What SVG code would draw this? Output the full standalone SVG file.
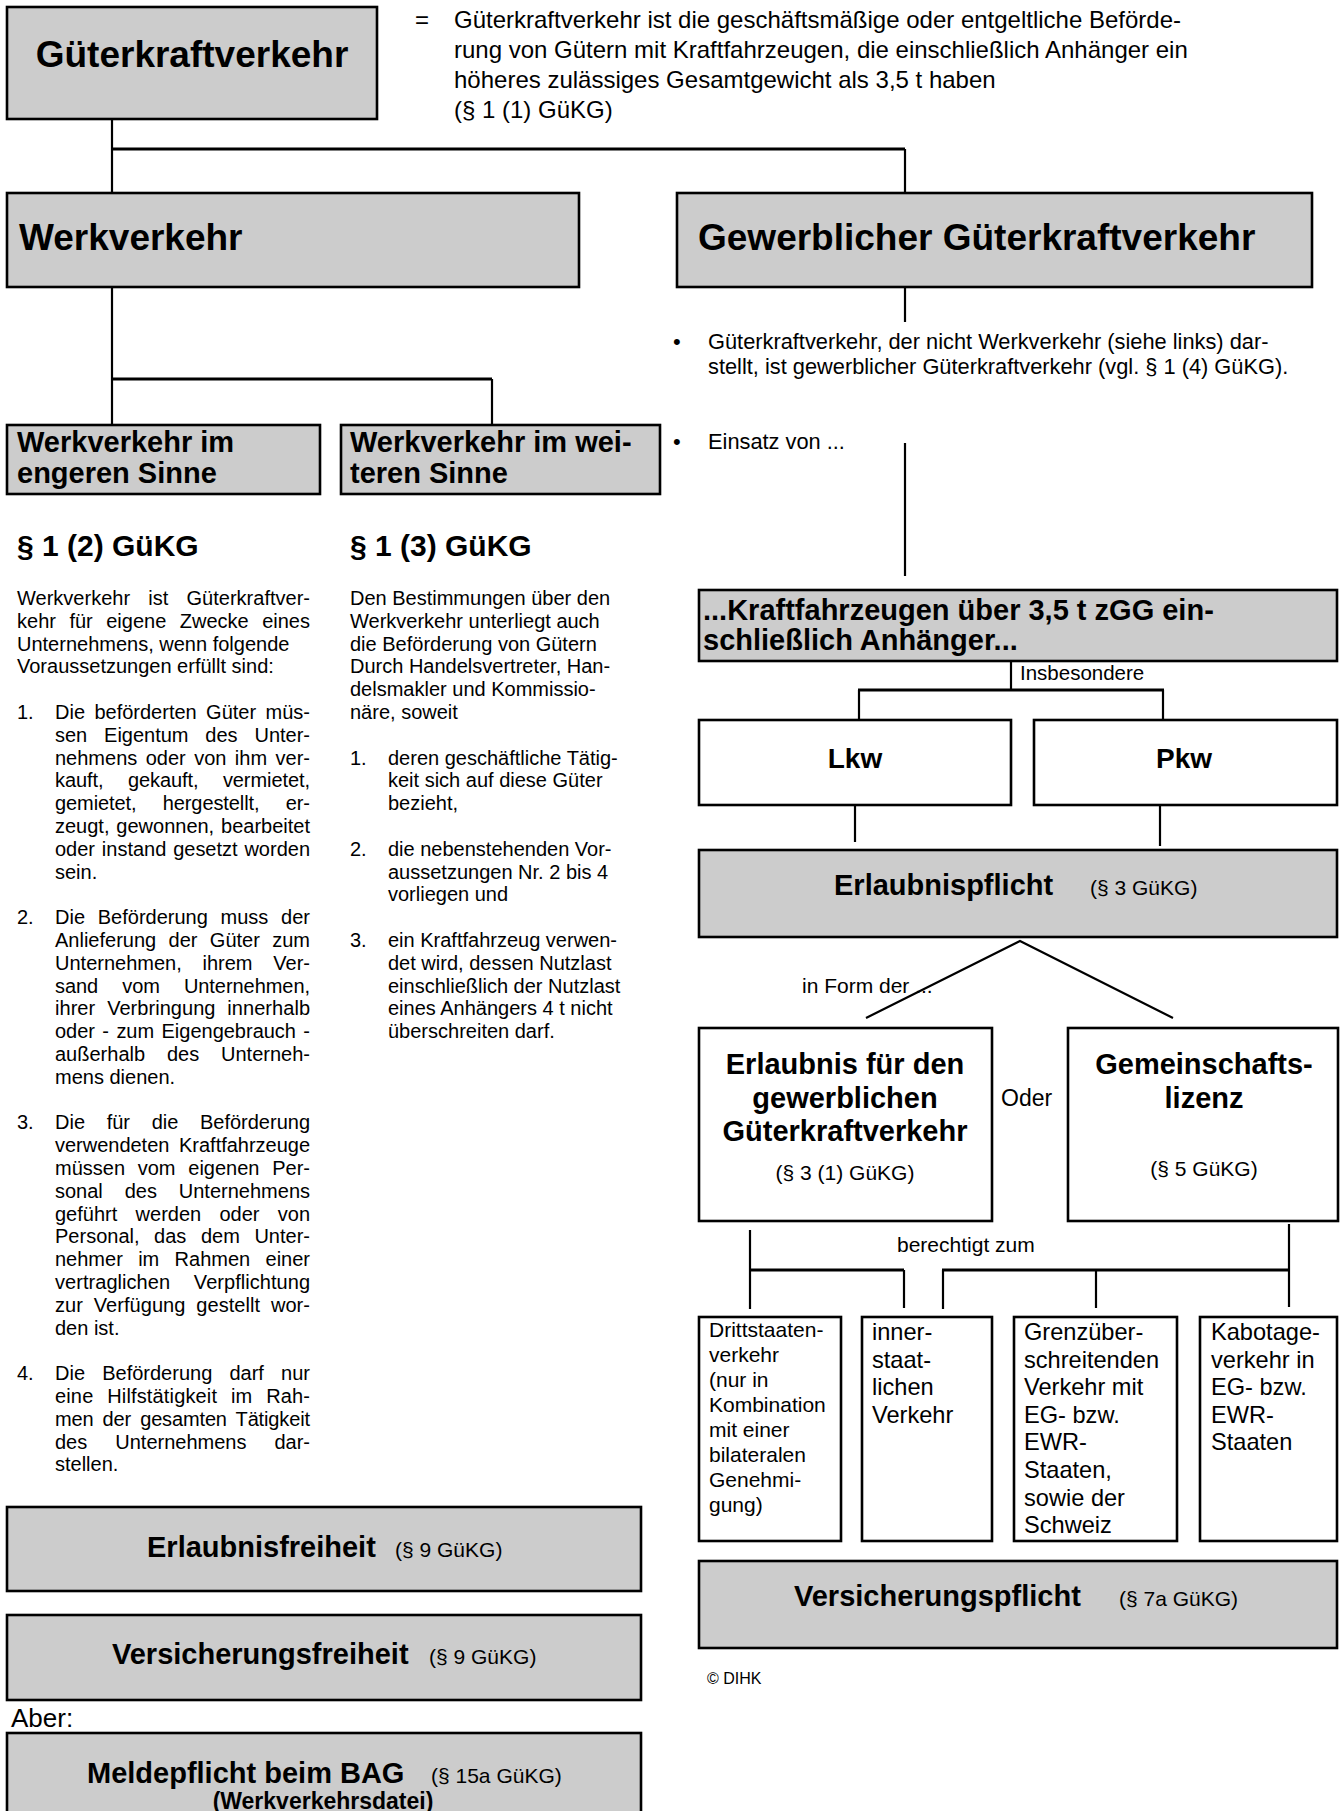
<svg xmlns="http://www.w3.org/2000/svg" width="1341" height="1811" viewBox="0 0 1341 1811">
<defs>
<style>
text{font-family:"Liberation Sans",Arial,sans-serif;fill:#000}
.g{fill:#cccccc;stroke:#000;stroke-width:2.6}
.w{fill:#fff;stroke:#000;stroke-width:2.6}
.b37{font-size:37px;font-weight:bold}
.b29{font-size:29px;font-weight:bold}
.r21{font-size:21px}
.p{font-size:20px}
.d{font-size:24px}
.s21{font-size:21px}
.s24{font-size:23.6px}
.c{text-anchor:middle}
.ln{stroke:#000;stroke-width:2.2;fill:none}
.lh{stroke:#000;stroke-width:3;fill:none}
</style>
</defs>
<rect width="1341" height="1811" fill="#fff"/>

<g id="connectors">
<path class="ln" d="M112,119V193"/>
<path class="lh" d="M111,149H905"/>
<path class="ln" d="M905,149V193"/>
<path class="ln" d="M905,287V322"/>
<path class="ln" d="M112,287V425"/>
<path class="lh" d="M111,379H492"/>
<path class="ln" d="M492,379V425"/>
<path class="ln" d="M905,443V576"/>
<path class="ln" d="M1011,661V690"/>
<path class="lh" d="M858,690H1164"/>
<path class="ln" d="M859,690V720"/>
<path class="ln" d="M1163,690V720"/>
<path class="ln" d="M855,805V842"/>
<path class="ln" d="M1160,805V846"/>
<path class="ln" d="M866,1018L1020,941L1173,1018"/>
<path class="ln" d="M750,1230V1309"/>
<path class="lh" d="M749,1270H904"/>
<path class="ln" d="M904,1270V1308"/>
<path class="ln" d="M943,1270V1309"/>
<path class="lh" d="M942,1270H1290"/>
<path class="ln" d="M1096,1270V1308"/>
<path class="ln" d="M1289,1224V1307"/>
</g>

<g id="gueterkraftverkehr">
<rect class="g" x="7" y="7" width="370" height="112"/>
<text class="b37 c" x="192" y="67">Güterkraftverkehr</text>
</g>

<g id="definition">
<text class="d" x="415" y="28">=</text>
<text class="d" x="454" y="28">Güterkraftverkehr ist die geschäftsmäßige oder entgeltliche Beförde-</text>
<text class="d" x="454" y="58">rung von Gütern mit Kraftfahrzeugen, die einschließlich Anhänger ein</text>
<text class="d" x="454" y="88">höheres zulässiges Gesamtgewicht als 3,5 t haben</text>
<text class="d" x="454" y="118">(§ 1 (1) GüKG)</text>
</g>

<g id="werkverkehr">
<rect class="g" x="7" y="193" width="572" height="94"/>
<text class="b37" x="19" y="250">Werkverkehr</text>
</g>

<g id="gewerblich">
<rect class="g" x="677" y="193" width="635" height="94"/>
<text class="b37" x="698" y="250">Gewerblicher Güterkraftverkehr</text>
</g>

<g id="wv-engeren">
<rect class="g" x="7" y="425" width="313" height="69"/>
<text class="b29" x="17" y="452">Werkverkehr im</text>
<text class="b29" x="17" y="483">engeren Sinne</text>
</g>

<g id="wv-weiteren">
<rect class="g" x="341" y="425" width="319" height="69"/>
<text class="b29" x="350" y="452">Werkverkehr im wei-</text>
<text class="b29" x="350" y="483">teren Sinne</text>
</g>

<g id="text-engeren">
<text class="b29" x="17" y="556" style="font-size:30px">§ 1 (2) GüKG</text>
<text class="p" x="17" y="605" word-spacing="12.6" textLength="293" lengthAdjust="spacing">Werkverkehr ist Güterkraftver-</text>
<text class="p" x="17" y="627.8" word-spacing="7.9" textLength="293" lengthAdjust="spacing">kehr für eigene Zwecke eines</text>
<text class="p" x="17" y="650.6">Unternehmens, wenn folgende</text>
<text class="p" x="17" y="673.4">Voraussetzungen erfüllt sind:</text>

<text class="p" x="17" y="719">1.</text>
<text class="p" x="55" y="719" word-spacing="3.9" textLength="255" lengthAdjust="spacing">Die beförderten Güter müs-</text>
<text class="p" x="55" y="741.8" word-spacing="11.3" textLength="255" lengthAdjust="spacing">sen Eigentum des Unter-</text>
<text class="p" x="55" y="764.6" word-spacing="2.9" textLength="255" lengthAdjust="spacing">nehmens oder von ihm ver-</text>
<text class="p" x="55" y="787.4" word-spacing="19" textLength="255" lengthAdjust="spacing">kauft, gekauft, vermietet,</text>
<text class="p" x="55" y="810.2" word-spacing="20.8" textLength="255" lengthAdjust="spacing">gemietet, hergestellt, er-</text>
<text class="p" x="55" y="833" word-spacing="1.3" textLength="255" lengthAdjust="spacing">zeugt, gewonnen, bearbeitet</text>
<text class="p" x="55" y="855.8" word-spacing="1.3" textLength="255" lengthAdjust="spacing">oder instand gesetzt worden</text>
<text class="p" x="55" y="878.6">sein.</text>

<text class="p" x="17" y="924.2">2.</text>
<text class="p" x="55" y="924.2" word-spacing="7.2" textLength="255" lengthAdjust="spacing">Die Beförderung muss der</text>
<text class="p" x="55" y="947" word-spacing="6.8" textLength="255" lengthAdjust="spacing">Anlieferung der Güter zum</text>
<text class="p" x="55" y="969.8" word-spacing="15.2" textLength="255" lengthAdjust="spacing">Unternehmen, ihrem Ver-</text>
<text class="p" x="55" y="992.6" word-spacing="18.6" textLength="255" lengthAdjust="spacing">sand vom Unternehmen,</text>
<text class="p" x="55" y="1015.4" word-spacing="6.3" textLength="255" lengthAdjust="spacing">ihrer Verbringung innerhalb</text>
<text class="p" x="55" y="1038.2" word-spacing="1.8" textLength="255" lengthAdjust="spacing">oder - zum Eigengebrauch -</text>
<text class="p" x="55" y="1061" word-spacing="16.3" textLength="255" lengthAdjust="spacing">außerhalb des Unterneh-</text>
<text class="p" x="55" y="1083.8">mens dienen.</text>

<text class="p" x="17" y="1129.4">3.</text>
<text class="p" x="55" y="1129.4" word-spacing="16.1" textLength="255" lengthAdjust="spacing">Die für die Beförderung</text>
<text class="p" x="55" y="1152.2" word-spacing="4.1" textLength="255" lengthAdjust="spacing">verwendeten Kraftfahrzeuge</text>
<text class="p" x="55" y="1175" word-spacing="7.2" textLength="255" lengthAdjust="spacing">müssen vom eigenen Per-</text>
<text class="p" x="55" y="1197.8" word-spacing="16.3" textLength="255" lengthAdjust="spacing">sonal des Unternehmens</text>
<text class="p" x="55" y="1220.6" word-spacing="12.7" textLength="255" lengthAdjust="spacing">geführt werden oder von</text>
<text class="p" x="55" y="1243.4" word-spacing="9" textLength="255" lengthAdjust="spacing">Personal, das dem Unter-</text>
<text class="p" x="55" y="1266.2" word-spacing="9.8" textLength="255" lengthAdjust="spacing">nehmer im Rahmen einer</text>
<text class="p" x="55" y="1289" word-spacing="18.2" textLength="255" lengthAdjust="spacing">vertraglichen Verpflichtung</text>
<text class="p" x="55" y="1311.8" word-spacing="5.3" textLength="255" lengthAdjust="spacing">zur Verfügung gestellt wor-</text>
<text class="p" x="55" y="1334.6">den ist.</text>

<text class="p" x="17" y="1380.2">4.</text>
<text class="p" x="55" y="1380.2" word-spacing="11.6" textLength="255" lengthAdjust="spacing">Die Beförderung darf nur</text>
<text class="p" x="55" y="1403" word-spacing="8.1" textLength="255" lengthAdjust="spacing">eine Hilfstätigkeit im Rah-</text>
<text class="p" x="55" y="1425.8" word-spacing="3.7" textLength="255" lengthAdjust="spacing">men der gesamten Tätigkeit</text>
<text class="p" x="55" y="1448.6" word-spacing="22.5" textLength="255" lengthAdjust="spacing">des Unternehmens dar-</text>
<text class="p" x="55" y="1471.4">stellen.</text>
</g>

<g id="text-weiteren">
<text class="b29" x="350" y="556" style="font-size:30px">§ 1 (3) GüKG</text>
<text class="p" x="350" y="605">Den Bestimmungen über den</text>
<text class="p" x="350" y="627.8">Werkverkehr unterliegt auch</text>
<text class="p" x="350" y="650.6">die Beförderung von Gütern</text>
<text class="p" x="350" y="673.4">Durch Handelsvertreter, Han-</text>
<text class="p" x="350" y="696.2">delsmakler und Kommissio-</text>
<text class="p" x="350" y="719">näre, soweit</text>
<text class="p" x="350" y="764.6">1.</text>
<text class="p" x="388" y="764.6">deren geschäftliche Tätig-</text>
<text class="p" x="388" y="787.4">keit sich auf diese Güter</text>
<text class="p" x="388" y="810.2">bezieht,</text>
<text class="p" x="350" y="855.8">2.</text>
<text class="p" x="388" y="855.8">die nebenstehenden Vor-</text>
<text class="p" x="388" y="878.6">aussetzungen Nr. 2 bis 4</text>
<text class="p" x="388" y="901.4">vorliegen und</text>
<text class="p" x="350" y="947">3.</text>
<text class="p" x="388" y="947">ein Kraftfahrzeug verwen-</text>
<text class="p" x="388" y="969.8">det wird, dessen Nutzlast</text>
<text class="p" x="388" y="992.6">einschließlich der Nutzlast</text>
<text class="p" x="388" y="1015.4">eines Anhängers 4 t nicht</text>
<text class="p" x="388" y="1038.2">überschreiten darf.</text>
</g>

<g id="text-gewerblich">
<text style="font-size:22px" x="673" y="349">•</text>
<text style="font-size:21.8px" x="708" y="349">Güterkraftverkehr, der nicht Werkverkehr (siehe links) dar-</text>
<text style="font-size:21.8px" x="708" y="374">stellt, ist gewerblicher Güterkraftverkehr (vgl. § 1 (4) GüKG).</text>
<text style="font-size:22px" x="673" y="449">•</text>
<text style="font-size:21.8px" x="708" y="449">Einsatz von ...</text>
</g>

<g id="kraftfahrzeuge">
<rect class="g" x="699" y="590" width="638" height="71"/>
<text class="b29" x="703" y="620">...Kraftfahrzeugen über 3,5 t zGG ein-</text>
<text class="b29" x="703" y="650">schließlich Anhänger...</text>
</g>
<text x="1020" y="680" style="font-size:20.5px">Insbesondere</text>

<g id="lkw">
<rect class="w" x="699" y="720" width="312" height="85"/>
<text class="c" x="855" y="768" style="font-size:28px;font-weight:bold">Lkw</text>
</g>
<g id="pkw">
<rect class="w" x="1034" y="720" width="303" height="85"/>
<text class="c" x="1184" y="768" style="font-size:28px;font-weight:bold">Pkw</text>
</g>

<g id="erlaubnispflicht">
<rect class="g" x="699" y="850" width="638" height="87"/>
<text class="b29" x="834" y="895">Erlaubnispflicht</text>
<text class="r21" x="1090" y="895">(§ 3 GüKG)</text>
</g>

<text class="r21" x="802" y="993">in Form der ...</text>

<g id="erlaubnis">
<rect class="w" x="699" y="1028" width="293" height="193"/>
<text class="b29 c" x="845" y="1074">Erlaubnis für den</text>
<text class="b29 c" x="845" y="1108">gewerblichen</text>
<text class="b29 c" x="845" y="1141">Güterkraftverkehr</text>
<text class="r21 c" x="845" y="1180">(§ 3 (1) GüKG)</text>
</g>
<text x="1001" y="1106" style="font-size:23px">Oder</text>
<g id="gemeinschaftslizenz">
<rect class="w" x="1068" y="1028" width="270" height="193"/>
<text class="b29 c" x="1204" y="1074">Gemeinschafts-</text>
<text class="b29 c" x="1204" y="1108">lizenz</text>
<text class="r21 c" x="1204" y="1176">(§ 5 GüKG)</text>
</g>
<text class="r21" x="897" y="1252">berechtigt zum</text>

<g id="drittstaaten">
<rect class="w" x="699" y="1317" width="142" height="224"/>
<text class="s21" x="709" y="1337">Drittstaaten-</text>
<text class="s21" x="709" y="1362">verkehr</text>
<text class="s21" x="709" y="1387">(nur in</text>
<text class="s21" x="709" y="1412">Kombination</text>
<text class="s21" x="709" y="1437">mit einer</text>
<text class="s21" x="709" y="1462">bilateralen</text>
<text class="s21" x="709" y="1487">Genehmi-</text>
<text class="s21" x="709" y="1512">gung)</text>
</g>
<g id="innerstaatlich">
<rect class="w" x="862" y="1317" width="130" height="224"/>
<text class="s24" x="872" y="1340">inner-</text>
<text class="s24" x="872" y="1367.6">staat-</text>
<text class="s24" x="872" y="1395.2">lichen</text>
<text class="s24" x="872" y="1422.8">Verkehr</text>
</g>
<g id="grenzueberschreitend">
<rect class="w" x="1014" y="1317" width="163" height="224"/>
<text class="s24" x="1024" y="1340">Grenzüber-</text>
<text class="s24" x="1024" y="1367.6">schreitenden</text>
<text class="s24" x="1024" y="1395.2">Verkehr mit</text>
<text class="s24" x="1024" y="1422.8">EG- bzw.</text>
<text class="s24" x="1024" y="1450.4">EWR-</text>
<text class="s24" x="1024" y="1478">Staaten,</text>
<text class="s24" x="1024" y="1505.6">sowie der</text>
<text class="s24" x="1024" y="1533.2">Schweiz</text>
</g>
<g id="kabotage">
<rect class="w" x="1200" y="1317" width="137" height="224"/>
<text class="s24" x="1211" y="1340">Kabotage-</text>
<text class="s24" x="1211" y="1367.6">verkehr in</text>
<text class="s24" x="1211" y="1395.2">EG- bzw.</text>
<text class="s24" x="1211" y="1422.8">EWR-</text>
<text class="s24" x="1211" y="1450.4">Staaten</text>
</g>

<g id="versicherungspflicht">
<rect class="g" x="699" y="1561" width="638" height="87"/>
<text class="b29" x="794" y="1606">Versicherungspflicht</text>
<text class="r21" x="1119" y="1606">(§ 7a GüKG)</text>
</g>
<text x="707" y="1684" style="font-size:16px">© DIHK</text>

<g id="erlaubnisfreiheit">
<rect class="g" x="7" y="1507" width="634" height="84"/>
<text class="b29" x="147" y="1557">Erlaubnisfreiheit</text>
<text class="r21" x="395" y="1557">(§ 9 GüKG)</text>
</g>
<g id="versicherungsfreiheit">
<rect class="g" x="7" y="1615" width="634" height="85"/>
<text class="b29" x="112" y="1664">Versicherungsfreiheit</text>
<text class="r21" x="429" y="1664">(§ 9 GüKG)</text>
</g>
<text x="11" y="1727" style="font-size:26px">Aber:</text>
<g id="meldepflicht">
<rect class="g" x="7" y="1733" width="634" height="100"/>
<text class="b29" x="87" y="1783">Meldepflicht beim BAG</text>
<text class="r21" x="431" y="1783">(§ 15a GüKG)</text>
<text class="c" x="323" y="1809" style="font-size:23px;font-weight:bold">(Werkverkehrsdatei)</text>
</g>
</svg>
